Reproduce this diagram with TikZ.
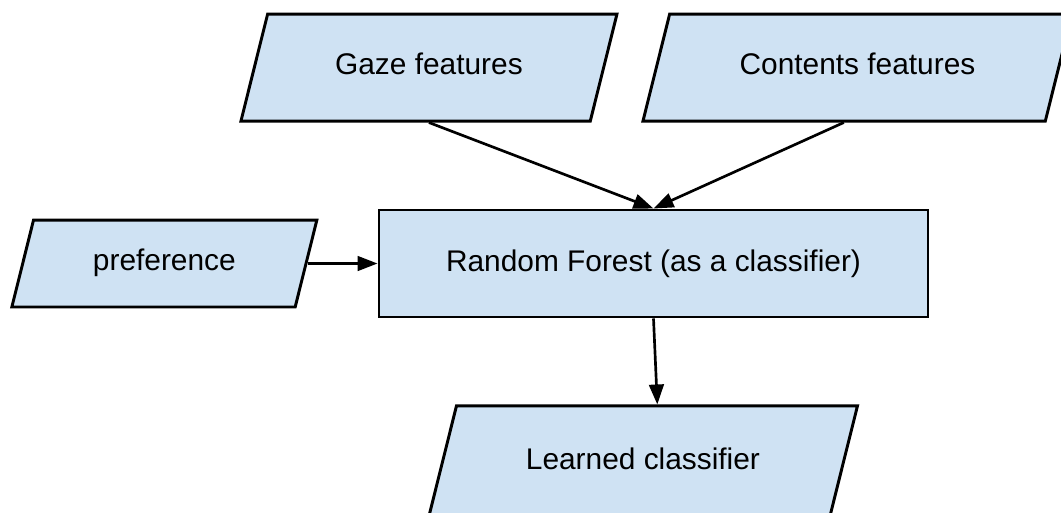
\documentclass[tikz,border=0pt]{standalone}
\usepackage{fontspec}
\setmainfont{Liberation Sans}
\usetikzlibrary{shapes.geometric}
\usetikzlibrary{positioning}
\usetikzlibrary{arrows.meta}
\definecolor{boxblue}{RGB}{207,226,243}
\tikzset{
    node distance=64.5pt,
    io/.style={
        trapezium,
        trapezium left angle=76,
        trapezium right angle=104,
        trapezium stretches body,
        draw,
        line width=2.2pt,
        fill=boxblue,
        text height=16pt,
        text depth=5pt,
        inner ysep=29.6pt,
        font=\fontsize{22.4}{27}\selectfont
    },
    process/.style={
        rectangle,
        draw,
        line width=2.2pt,
        fill=boxblue,
        minimum width=411.75pt,
        minimum height=80.25pt,
        font=\fontsize{22.4}{27}\selectfont
    },
    every edge/.append style={
        draw,
        -{Triangle[length=15pt,width=11pt]},
        line width=2pt
    }
}

\begin{document}
\begin{tikzpicture}[x=0.75pt, y=-0.75pt]
    \useasboundingbox (0,0) rectangle (1061,512);

    \node[process] (rf) at (653.5,263.5) {Random Forest (as a classifier)};
    \node[io, minimum width=282pt, above=of rf, xshift=-168.4pt] (gaze) {Gaze features};
    \node[io, minimum width=321.75pt, above=of rf, xshift=153pt] (contents) {Contents features};
    \node[io, minimum width=228.75pt, inner ysep=22.1pt, left=52.5pt of rf] (pref) {preference};
    \node[io, minimum width=321.75pt, inner ysep=31.6pt, below=of rf, xshift=-7.9pt] (learned) {Learned classifier};

    \draw (gaze.south) edge (rf.north);
    \draw (contents.bottom side) edge (rf.north);
    \draw (pref.east) edge (rf.west);
    \draw (rf.south) edge (learned.top side);
\end{tikzpicture}
\end{document}
